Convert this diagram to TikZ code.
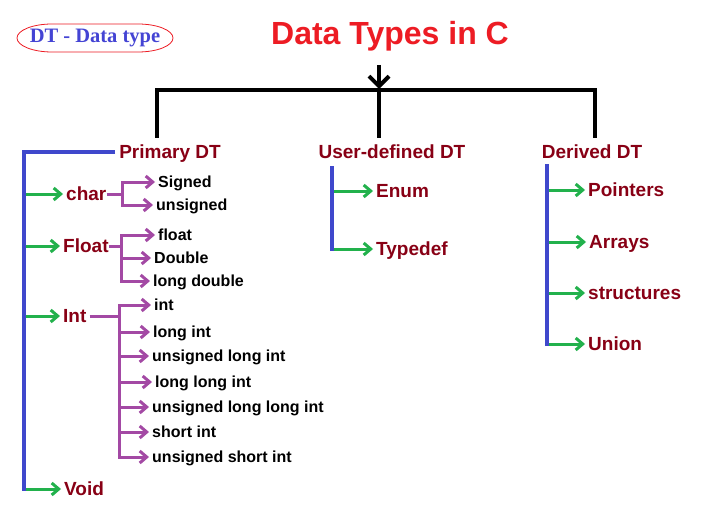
\documentclass[tikz,border=0pt]{standalone}
\usepackage{fontspec}
\setmainfont{Liberation Sans}
\newfontfamily\legendfont{Liberation Serif}
\usetikzlibrary{arrows.meta}
\definecolor{titlered}{RGB}{237,28,36}
\definecolor{catred}{RGB}{136,0,21}
\definecolor{treeblue}{RGB}{63,72,204}
\definecolor{treegreen}{RGB}{34,177,76}
\definecolor{treepurple}{RGB}{163,73,164}
\definecolor{legendblue}{RGB}{68,68,212}
\begin{document}
\begin{tikzpicture}[x=1pt,y=-1pt,
  top/.style={anchor=center, inner sep=0pt, text=catred, font=\fontsize{19}{19}\selectfont\bfseries, text height=13.5pt, text depth=0pt},
  cat/.style={anchor=west, inner sep=0pt, text=catred, font=\fontsize{19}{19}\selectfont\bfseries, text height=13.5pt, text depth=0pt},
  leaf/.style={anchor=west, inner sep=0pt, text=black, font=\fontsize{16}{16}\selectfont\bfseries, text height=11.5pt, text depth=0pt},
  blackline/.style={line width=4.5pt, black},
  blueline/.style={line width=4.5pt, treeblue},
  garrow/.style={line width=3pt, treegreen, shorten >=3pt, -{Straight Barb[length=7pt 0,width=12pt 0]}},
  pline/.style={line width=3pt, treepurple},
  parrow/.style={line width=3pt, treepurple, shorten >=3pt, -{Straight Barb[length=7pt 0,width=12pt 0]}},
]
\useasboundingbox (0,0) rectangle (709,516);
\fill[white] (0,0) rectangle (709,516);

% legend
\node[inner sep=0pt, text=legendblue, font=\legendfont\fontsize{20.5}{20.5}\selectfont\bfseries] (legend) at (95,38) {DT - Data type};
\draw[titlered, line width=0.8pt] (52,24) -- (138,24) .. controls (157.3,24) and (173,30.3) .. (173,38)
  .. controls (173,45.7) and (157.3,52) .. (138,52) -- (52,52)
  .. controls (32.7,52) and (17,45.7) .. (17,38) .. controls (17,30.3) and (32.7,24) .. cycle;

% title
\node[inner sep=0pt, text=titlered, font=\fontsize{32}{32}\selectfont\bfseries, text height=23pt, text depth=0pt] (title) at (390,33) {Data Types in C};

% top categories
\node[top] (prim) at (170,152) {Primary DT};
\node[top] (user) at (392,152) {User-defined DT};
\node[top] (deri) at (592,152) {Derived DT};

\coordinate (arrtop) at (379,65);
\coordinate (hub) at (379,89);
\coordinate (pl) at (157,90);
\coordinate (pr) at (595,90);
\draw[blackline] (157,138) -- (pl) -- (pr) -- (595,138);
\draw[blackline] (hub) -- (379,138);
\draw[line width=4pt, -{Straight Barb[length=10pt 0,width=20pt 0]}] (arrtop) -- (hub);

% primary
\node[cat] (char) at (66,194) {char};
\node[cat] (float) at (63,246) {Float};
\node[cat] (int) at (63,316) {Int};
\node[cat] (void) at (64,489) {Void};
\coordinate (ptrunk) at (24,152);
\draw[blueline] (115,152) -- (ptrunk) -- (24,490.5);
\foreach \n in {char,float,int,void}
  \draw[garrow] (\n.west -| 26,0) -- (\n.west);

% char children
\node[leaf] (signed) at (158,182) {Signed};
\node[leaf] (unsigned) at (156,205) {unsigned};
\coordinate (cj) at (char.east -| 122,0);
\draw[pline] (char.east) -- (cj);
\draw[parrow] (cj) |- (signed.west);
\draw[parrow] (cj) |- (unsigned.west);

% float children
\node[leaf] (fl) at (158,235) {float};
\node[leaf] (dbl) at (154,258) {Double};
\node[leaf] (ldbl) at (153,281) {long double};
\coordinate (fj) at (float.east -| 121,0);
\draw[pline] (float.east) -- (fj);
\foreach \n in {fl,dbl,ldbl}
  \draw[parrow] (fj) |- (\n.west);

% int children
\node[leaf] (i1) at (154,305) {int};
\node[leaf] (i2) at (153,332) {long int};
\node[leaf] (i3) at (152,356) {unsigned long int};
\node[leaf] (i4) at (155,382) {long long int};
\node[leaf] (i5) at (152,407) {unsigned long long int};
\node[leaf] (i6) at (152,432) {short int};
\node[leaf] (i7) at (152,457) {unsigned short int};
\coordinate (ij) at (int.east -| 119,0);
\draw[pline] ([xshift=3pt]int.east) -- (ij);
\foreach \n in {i1,i2,i3,i4,i5,i6,i7}
  \draw[parrow] (ij) |- (\n.west);

% user-defined
\node[cat] (enum) at (376,191) {Enum};
\node[cat] (tdef) at (376,249) {Typedef};
\coordinate (utrunk) at (332,166);
\draw[blueline] (utrunk) -- (332,250.5);
\foreach \n in {enum,tdef}
  \draw[garrow] (\n.west -| 334,0) -- (\n.west);

% derived
\node[cat] (ptr) at (588,190) {Pointers};
\node[cat] (arr) at (589,242) {Arrays};
\node[cat] (str) at (588,293) {structures};
\node[cat] (uni) at (588,344) {Union};
\coordinate (dtrunk) at (547,164);
\draw[blueline] (dtrunk) -- (547,345.5);
\foreach \n in {ptr,arr,str,uni}
  \draw[garrow] (\n.west -| 549,0) -- (\n.west);
\end{tikzpicture}
\end{document}
